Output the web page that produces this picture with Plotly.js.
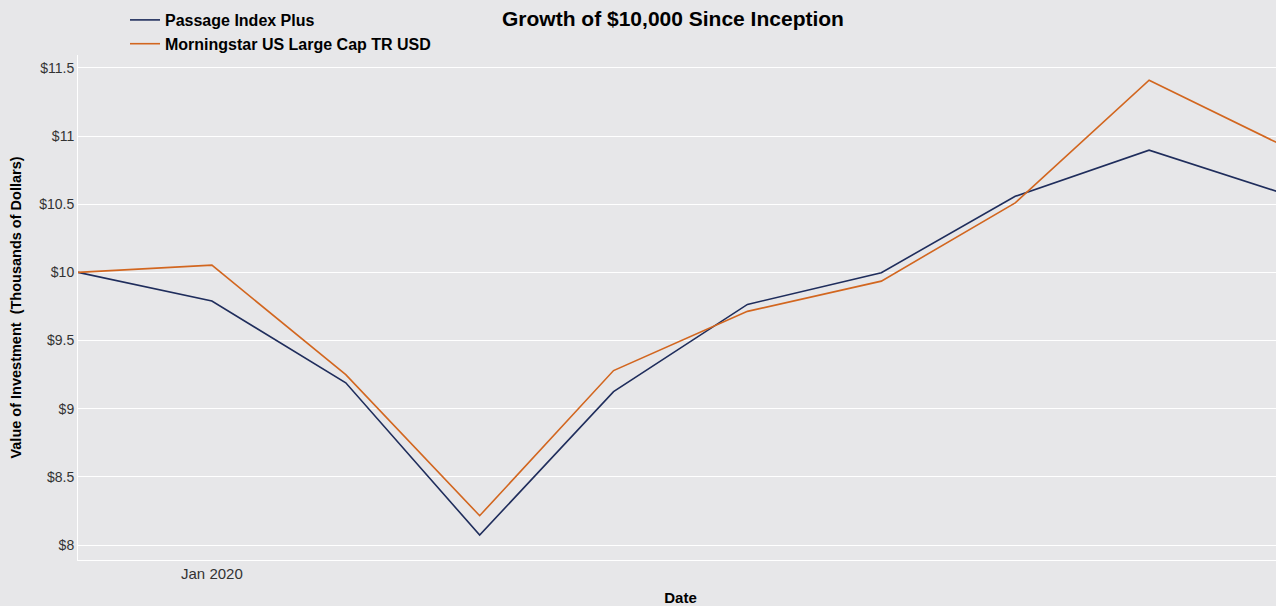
<!DOCTYPE html>
<html>
<head>
<meta charset="utf-8">
<script src="https://cdn.plot.ly/plotly-3.0.1.min.js"></script>
<style>
html,body{margin:0;padding:0;overflow:hidden;background:#e7e7e9;}
#chart{width:1346px;height:606px;}
</style>
</head>
<body>
<div id="chart"></div>
<script>
const months = ["Dec 2019","Jan 2020","Feb 2020","Mar 2020","Apr 2020","May 2020","Jun 2020","Jul 2020","Aug 2020","Sep 2020"];
const passageIndexPlus = [10.0, 9.79, 9.19, 8.073, 9.125, 9.765, 9.998, 10.558, 10.897, 10.58];
const morningstarUSLargeCap = [10.0, 10.053, 9.25, 8.215, 9.28, 9.714, 9.936, 10.51, 11.41, 10.93];
const seriesNames = ["Passage Index Plus", "Morningstar US Large Cap TR USD"];
const xTickVals = ["Jan 2020"];
const xTickText = ["Jan 2020"];
const yTickVals = [8, 8.5, 9, 9.5, 10, 10.5, 11, 11.5];
const yTickText = ["$8", "$8.5", "$9", "$9.5", "$10", "$10.5", "$11", "$11.5"];

const font = "Liberation Sans, Arial, sans-serif";
const traces = [
  {x: months, y: passageIndexPlus, name: seriesNames[0], type: "scatter", mode: "lines",
   line: {color: "#1f2d5c", width: 1.6}},
  {x: months, y: morningstarUSLargeCap, name: seriesNames[1], type: "scatter", mode: "lines",
   line: {color: "#d2661f", width: 1.6}}
];
const layout = {
  width: 1346, height: 606,
  paper_bgcolor: "#e7e7e9", plot_bgcolor: "#e7e7e9",
  margin: {l: 78, r: 63, t: 55, b: 46, autoexpand: false},
  font: {family: font, color: "#444"},
  title: {text: "<b>Growth of $10,000 Since Inception</b>", x: 0.5, xanchor: "center", y: 0.97, yanchor: "middle",
          font: {size: 21, color: "#000", family: font}},
  showlegend: true,
  legend: {xref: "paper", yref: "paper", x: (125 - 78) / 1205, y: 1 + 52 / 505, xanchor: "left", yanchor: "top",
           bgcolor: "rgba(0,0,0,0)", font: {size: 16, color: "#000", family: font, weight: "bold"},
           tracegroupgap: 0},
  xaxis: {type: "category", range: [0, 9], tickmode: "array", tickvals: xTickVals, ticktext: xTickText,
          automargin: false,
          showgrid: false, zeroline: false, showline: true, linecolor: "#ffffff", linewidth: 1,
          tickfont: {size: 15, color: "#333"}, ticks: "",
          title: {text: "<b>Date</b>", font: {size: 15, color: "#000"}}},
  yaxis: {range: [7.89, 11.595], tickmode: "array", tickvals: yTickVals, ticktext: yTickText,
          automargin: true,
          showgrid: true, gridcolor: "#ffffff", gridwidth: 1, zeroline: false,
          showline: true, linecolor: "#ffffff", linewidth: 1, ticks: "",
          tickfont: {size: 14, color: "#333"},
          title: {text: "<b>Value of Investment  (Thousands of Dollars)</b>", font: {size: 14.5, color: "#000"}, standoff: 14}}
};
Plotly.newPlot("chart", traces, layout, {displayModeBar: false, staticPlot: true});
</script>
</body>
</html>
